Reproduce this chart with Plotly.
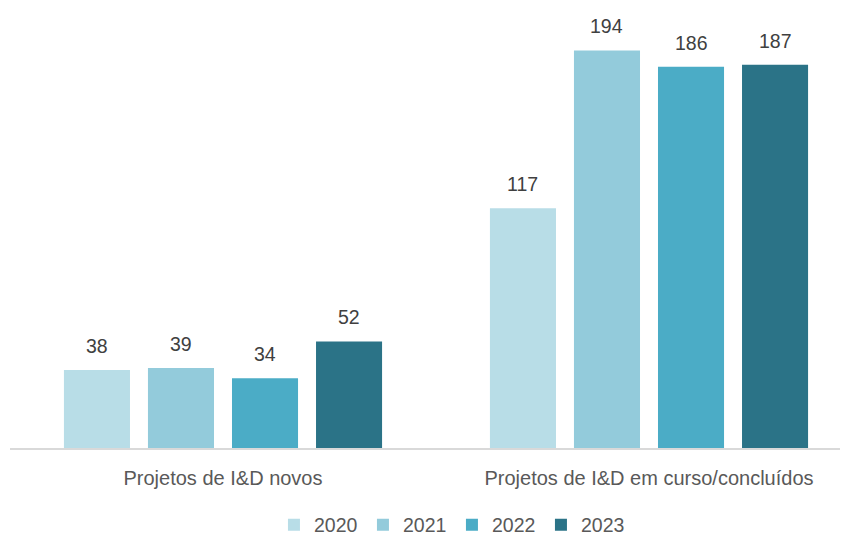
import plotly.graph_objects as go

categories = ["Projetos de I&D novos", "Projetos de I&D em curso/concluídos"]
years = ["2020", "2021", "2022", "2023"]
values_2020 = [38, 117]
values_2021 = [39, 194]
values_2022 = [34, 186]
values_2023 = [52, 187]
colors = ["#B8DDE7", "#93CBDB", "#4BACC6", "#2B7387"]

series = [values_2020, values_2021, values_2022, values_2023]

FONT = "Liberation Sans, Arial, sans-serif"
BARGAP = 0.211
GROUPGAP = 0.214
n = len(series)

fig = go.Figure()
for name, vals, col in zip(years, series, colors):
    fig.add_trace(go.Bar(
        x=categories, y=vals, name=name, marker=dict(color=col, line=dict(width=0)),
        hoverinfo="skip",
    ))

slot = (1 - BARGAP) / n
for i, vals in enumerate(series):
    for j, v in enumerate(vals):
        fig.add_annotation(
            x=j + (i - (n - 1) / 2) * slot, y=v, xref="x", yref="y",
            text=str(v), showarrow=False, yanchor="bottom", yshift=11,
            font=dict(family=FONT, size=19.5, color="#404040"),
        )

fig.update_layout(
    width=848, height=536,
    margin=dict(l=2, r=0, t=10, b=96, autoexpand=False),
    paper_bgcolor="white", plot_bgcolor="white",
    barmode="group", bargap=BARGAP, bargroupgap=GROUPGAP,
    font=dict(family=FONT, size=19.5, color="#595959"),
    showlegend=True,
    legend=dict(orientation="h", x=0.312, xanchor="left", y=-0.179, yanchor="middle",
                font=dict(family=FONT, size=19.5, color="#595959"), itemwidth=30,
                entrywidth=44, entrywidthmode="pixels", traceorder="normal"),
    xaxis=dict(type="category", range=[-0.5, 1.5 - 6 / 426], showline=True,
               linecolor="#D9D9D9", linewidth=2, ticks="", showgrid=False,
               ticklabelstandoff=11, tickfont=dict(family=FONT, size=20, color="#595959")),
    yaxis=dict(range=[0, 209.8], visible=False, showgrid=False, zeroline=False),
)

fig.write_html("out.html")
